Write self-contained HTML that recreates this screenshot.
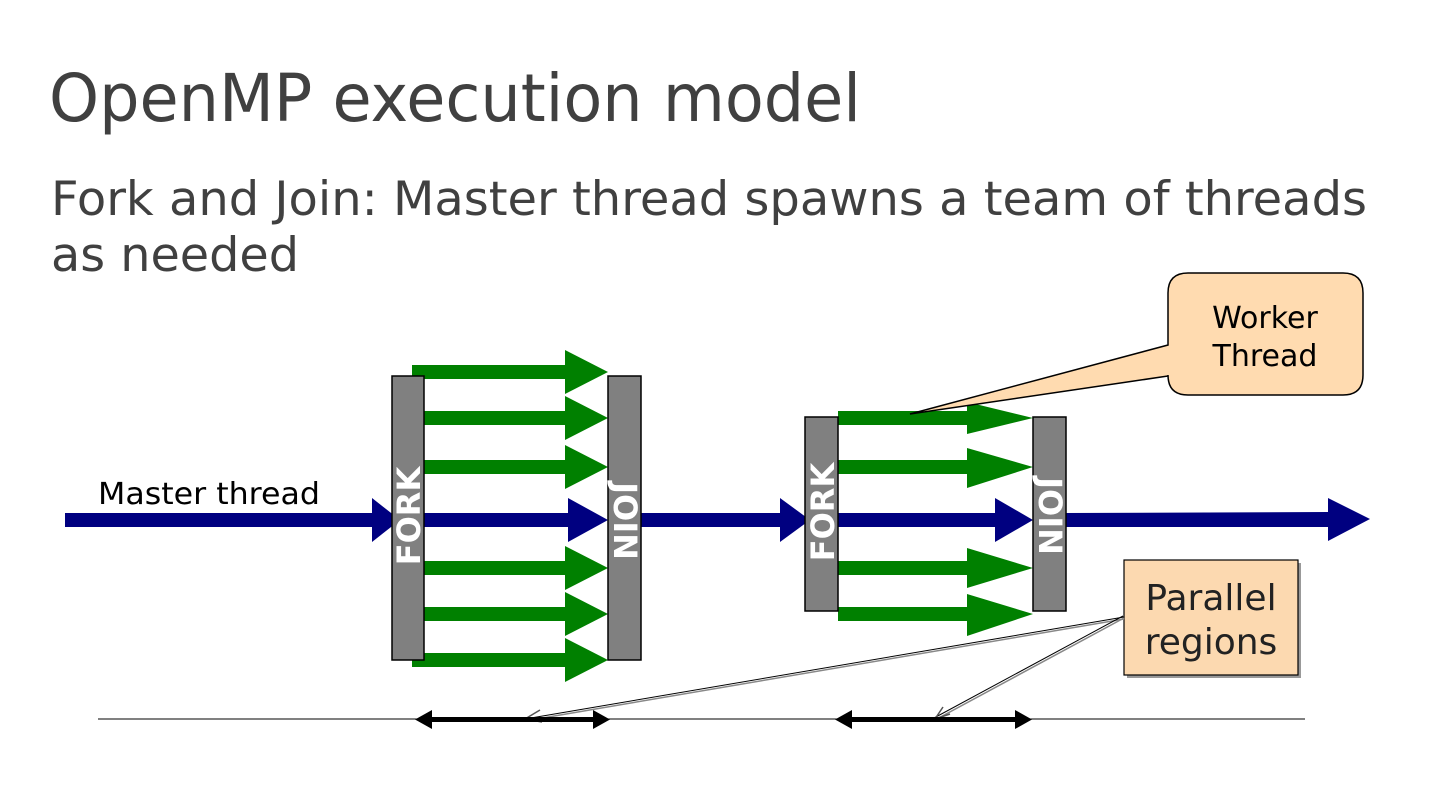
<!DOCTYPE html>
<html><head><meta charset="utf-8"><style>
html,body{margin:0;padding:0;background:#fff;}
svg{display:block;}
</style></head><body>
<svg width="1440" height="811" viewBox="0 0 1440 811" xmlns="http://www.w3.org/2000/svg" font-family="'DejaVu Sans','Liberation Sans',sans-serif">
<defs>
<g id="garrow"><polygon points="0,-7 -42,-7 -42,-22 0,0 -42,22 -42,7 0,7" fill="#008000"/></g>
</defs>
<text x="49" y="121" font-size="66" fill="#404040" textLength="812" lengthAdjust="spacingAndGlyphs">OpenMP execution model</text>
<text x="51" y="215" font-size="47" fill="#404040" textLength="1316" lengthAdjust="spacingAndGlyphs">Fork and Join: Master thread spawns a team of threads</text>
<text x="51" y="271" font-size="47" fill="#404040" textLength="248" lengthAdjust="spacingAndGlyphs">as needed</text>

<text x="98" y="504" font-size="30" fill="#000" textLength="222" lengthAdjust="spacingAndGlyphs">Master thread</text>

<!-- blue master arrow pieces -->
<g fill="#000080">
<polygon points="65,513 372,513 372,498 400,520 372,542 372,527 65,527"/>
<polygon points="424,513 568,513 568,498 608,520 568,542 568,527 424,527"/>
<polygon points="641,513 780,513 780,498 810,520 780,542 780,527 641,527"/>
<polygon points="838,513 995,513 995,498 1033,520 995,542 995,527 838,527"/>
<polygon points="1066,513 1328,512 1328,498 1370,519 1328,541 1328,527 1066,527"/>
</g>

<!-- green arrows region 1 -->
<g fill="#008000">
<rect x="412" y="365" width="156" height="14"/>
<polygon points="565,350 608,372 565,394"/>
<rect x="412" y="411" width="156" height="14"/>
<polygon points="565,396 608,418 565,440"/>
<rect x="412" y="460" width="156" height="14"/>
<polygon points="565,445 608,467 565,489"/>
<rect x="412" y="561" width="156" height="14"/>
<polygon points="565,546 608,568 565,590"/>
<rect x="412" y="607" width="156" height="14"/>
<polygon points="565,592 608,614 565,636"/>
<rect x="412" y="653" width="156" height="14"/>
<polygon points="565,638 608,660 565,682"/>
</g>
<!-- green arrows region 2 -->
<g fill="#008000">
<rect x="838" y="411" width="132" height="14"/>
<polygon points="967,402 1033,418 967,434"/>
<rect x="838" y="460" width="132" height="14"/>
<polygon points="967,448 1033,467 967,488"/>
<rect x="838" y="561" width="132" height="14"/>
<polygon points="967,548 1033,568 967,588"/>
<rect x="838" y="607" width="132" height="14"/>
<polygon points="967,594 1033,614 967,636"/>
</g>

<!-- bars -->
<rect x="392" y="376" width="32" height="284" fill="#808080" stroke="#000" stroke-width="1.5"/>
<rect x="608" y="376" width="33" height="284" fill="#808080" stroke="#000" stroke-width="1.5"/>
<rect x="805" y="417" width="33" height="194" fill="#808080" stroke="#000" stroke-width="1.5"/>
<rect x="1033" y="417" width="33" height="194" fill="#808080" stroke="#000" stroke-width="1.5"/>

<text transform="translate(420,516) rotate(-90)" text-anchor="middle" font-size="32" font-weight="bold" fill="#fff">FORK</text>
<text transform="translate(834,512) rotate(-90)" text-anchor="middle" font-size="32" font-weight="bold" fill="#fff">FORK</text>
<text transform="translate(614,521) rotate(90)" text-anchor="middle" font-size="32" font-weight="bold" fill="#fff">JOIN</text>
<text transform="translate(1039,516) rotate(90)" text-anchor="middle" font-size="32" font-weight="bold" fill="#fff">JOIN</text>

<!-- Worker thread callout -->
<path d="M1188,273 H1343 Q1363,273 1363,293 V375 Q1363,395 1343,395 H1188 Q1168,395 1168,375 V376 L910,414 L1168,345 V293 Q1168,273 1188,273 Z" fill="#ffdbb0" stroke="#000" stroke-width="1.5"/>
<text x="1265" y="328" text-anchor="middle" font-size="30" fill="#000">Worker</text>
<text x="1265" y="366" text-anchor="middle" font-size="30" fill="#000">Thread</text>

<!-- Parallel regions box -->
<rect x="1127" y="563" width="174" height="115" fill="#999"/>
<rect x="1124" y="560" width="174" height="115" fill="#fcd9b0" stroke="#000" stroke-width="1.2"/>
<text x="1211" y="610" text-anchor="middle" font-size="36" fill="#222">Parallel</text>
<text x="1211" y="654" text-anchor="middle" font-size="36" fill="#222">regions</text>

<!-- pointers -->
<g fill="none">
<line x1="1124" y1="619" x2="525" y2="721" stroke="#888" stroke-width="1.5"/>
<line x1="1124" y1="617" x2="525" y2="719" stroke="#000" stroke-width="1"/>
<line x1="1124" y1="618" x2="935" y2="720" stroke="#888" stroke-width="1.5"/>
<line x1="1123" y1="616" x2="934" y2="718" stroke="#000" stroke-width="1"/>
<polyline points="540,710 525,719 542,722" stroke="#555" stroke-width="1.5"/>
<polyline points="943,707 935,719 950,714" stroke="#555" stroke-width="1.5"/>
</g>

<!-- bottom timeline -->
<line x1="98" y1="719" x2="1305" y2="719" stroke="#000" stroke-width="1"/>
<g fill="#000">
<rect x="428" y="717" width="170" height="5"/>
<polygon points="415,719.5 432,710 432,729"/>
<polygon points="610,719.5 593,710 593,729"/>
<rect x="848" y="717" width="172" height="5"/>
<polygon points="835,719.5 852,710 852,729"/>
<polygon points="1032,719.5 1015,710 1015,729"/>
</g>
</svg>
</body></html>
